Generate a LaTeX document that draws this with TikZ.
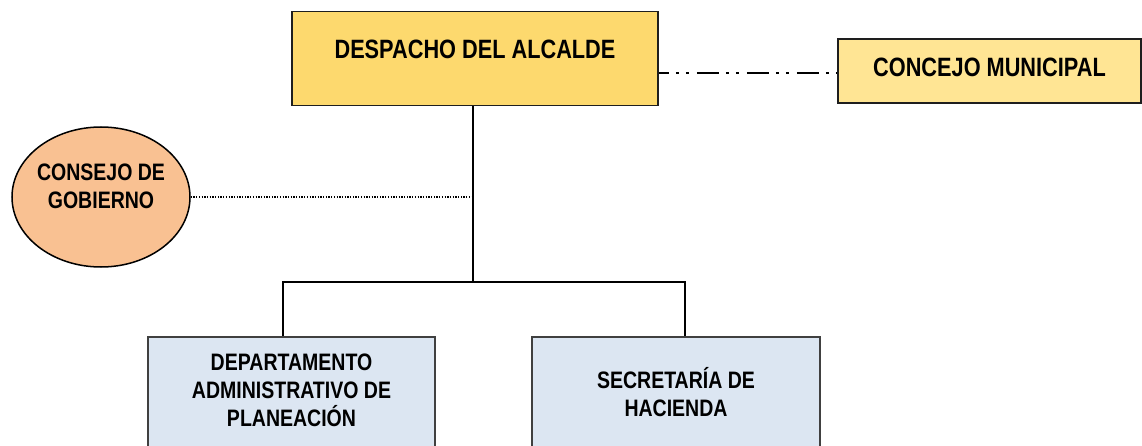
\documentclass[tikz,border=0pt]{standalone}
\usepackage{fontspec}
\setmainfont{Liberation Sans}[FakeStretch=0.82]
\usetikzlibrary{shapes.geometric,calc}
\definecolor{despfill}{HTML}{FDD96E}
\definecolor{concfill}{HTML}{FFE594}
\definecolor{consfill}{HTML}{F9C192}
\definecolor{bluefill}{HTML}{DCE6F2}
\definecolor{edge}{HTML}{1E1E1E}
\begin{document}
\begin{tikzpicture}[x=1pt,y=-1pt,
  bigtext/.style={font=\bfseries\fontsize{26.5}{30}\selectfont},
  smalltext/.style={font=\bfseries\fontsize{23.8}{28}\selectfont, align=center},
  topbox/.style={draw=edge, line width=1.6pt, rectangle, inner sep=0pt, bigtext},
  bluebox/.style={draw=edge!85, line width=1.6pt, rectangle, inner sep=0pt, fill=bluefill},
  conn/.style={draw=black, line width=1.6pt},
  dotline/.style={draw=black, line width=1.3pt, dash pattern=on 1.3pt off 1.4pt},
  dashdotdot/.style={draw=black, line width=2pt, dash pattern=on 22pt off 7pt on 3pt off 7pt on 3pt off 8pt, dash phase=12pt}
  ]
\useasboundingbox (0,0) rectangle (1142,446);
% nodes
\node[topbox, fill=despfill, minimum width=366pt, minimum height=94pt,
      text height=19pt, text depth=19pt] (desp) at (475,58.5) {DESPACHO DEL ALCALDE};
\node[topbox, fill=concfill, minimum width=303pt, minimum height=64pt,
      text height=19pt, text depth=8pt] (conc) at (989.5,71) {CONCEJO MUNICIPAL};
\node[ellipse, draw=black, line width=1.5pt, fill=consfill, inner sep=0pt,
      minimum width=178pt, minimum height=140pt,
      label={[smalltext, yshift=10.5pt]center:CONSEJO DE\\GOBIERNO}] (cons) at (101,197) {};
\node[bluebox, minimum width=287pt, minimum height=123pt,
      label={[smalltext, yshift=8.5pt]center:DEPARTAMENTO\\ADMINISTRATIVO DE\\PLANEACIÓN}] (dept) at (291.5,398.5) {};
\node[bluebox, minimum width=288pt, minimum height=123pt,
      label={[smalltext, yshift=6pt]center:SECRETARÍA DE\\HACIENDA}] (sec) at (676,398.5) {};
\coordinate (j) at (473,282);
\coordinate (dtop) at ([xshift=-8.5pt]dept.north);
\coordinate (stop) at ([xshift=9pt]sec.north);
% connectors
\draw[conn] (desp.south -| j) -- (j);
\draw[conn] (dtop) -- (j -| dtop) -| (stop);
\draw[dotline] (cons.east) -- (cons.east -| j);
\draw[dashdotdot] ([yshift=-2pt]conc.west -| desp.east) -- ([yshift=-2pt]conc.west);
\end{tikzpicture}
\end{document}
